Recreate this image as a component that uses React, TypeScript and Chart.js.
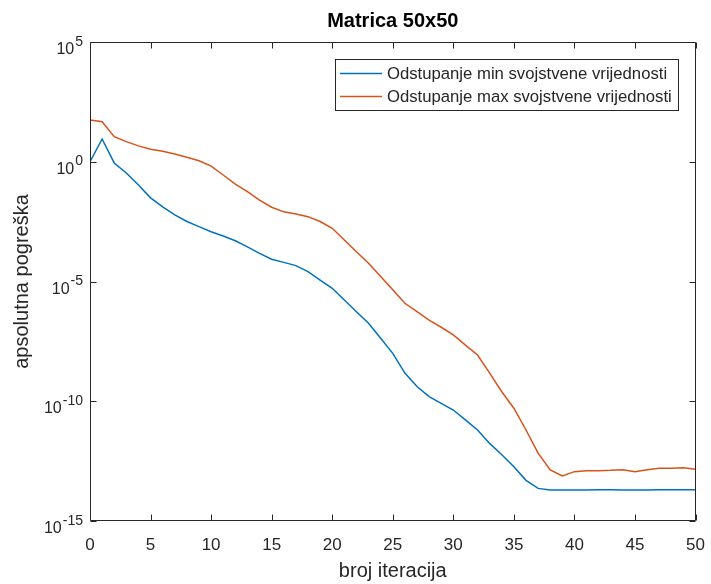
import React, { useEffect, useRef } from 'react';
import { Chart, registerables } from 'chart.js';

Chart.register(...registerables);

const chartTitle = 'Matrica 50x50';
const xAxisTitle = 'broj iteracija';
const yAxisTitle = 'apsolutna pogreška';
const seriesLabels = ['Odstupanje min svojstvene vrijednosti', 'Odstupanje max svojstvene vrijednosti'];
const seriesColors = ['#0072BD', '#D95319'];

const iterations = [
  0, 1, 2, 3, 4, 5, 6, 7, 8, 9, 10, 11, 12, 13, 14, 15, 16, 17, 18, 19, 20,
  21, 22, 23, 24, 25, 26, 27, 28, 29, 30, 31, 32, 33, 34, 35, 36, 37, 38, 39, 40,
  41, 42, 43, 44, 45, 46, 47, 48, 49, 50,
];

const minDeviation = [
  1.0, 8.9, 0.89, 0.34, 0.107, 0.031, 0.013, 6.0e-3, 3.2e-3, 1.95e-3, 1.2e-3,
  7.9e-4, 5.0e-4, 2.8e-4, 1.5e-4, 8.5e-5, 6.3e-5, 4.6e-5, 2.6e-5, 1.15e-5, 5.2e-6,
  1.7e-6, 5.5e-7, 1.8e-7, 4.3e-8, 1.0e-8, 1.5e-9, 4.1e-10, 1.55e-10, 8.1e-11, 4.3e-11,
  1.66e-11, 6.3e-12, 1.74e-12, 5.8e-13, 1.86e-13, 5.0e-14, 2.3e-14, 1.95e-14, 1.95e-14, 1.95e-14,
  1.97e-14, 2.0e-14, 2.0e-14, 1.97e-14, 1.95e-14, 1.97e-14, 2.0e-14, 2.0e-14, 2.0e-14, 2.0e-14,
];

const maxDeviation = [
  55, 47, 11.2, 6.9, 4.6, 3.3, 2.75, 2.1, 1.55, 1.1, 0.66,
  0.28, 0.117, 0.056, 0.025, 0.0126, 8.1e-3, 6.6e-3, 5.1e-3, 3.2e-3, 1.66e-3,
  5.4e-4, 1.74e-4, 5.8e-5, 1.6e-5, 4.5e-6, 1.23e-6, 5.5e-7, 2.45e-7, 1.23e-7, 5.9e-8,
  2.2e-8, 8.5e-9, 1.5e-9, 2.5e-10, 5.1e-11, 6.3e-12, 6.8e-13, 1.35e-13, 7.6e-14, 1.15e-13,
  1.26e-13, 1.26e-13, 1.3e-13, 1.38e-13, 1.15e-13, 1.38e-13, 1.6e-13, 1.6e-13, 1.66e-13, 1.45e-13,
];

const xTickValues = [0, 5, 10, 15, 20, 25, 30, 35, 40, 45, 50];
const yTickValues = [1e-15, 1e-10, 1e-5, 1e0, 1e5];
const yTickBase = '10';
const yTickExponents = ['-15', '-10', '-5', '0', '5'];

const FONT = "'Liberation Sans', Arial, Helvetica, sans-serif";
const AXIS_COLOR = '#262626';

const framePlugin = {
  id: 'matlabFrame',
  afterDraw(chart: any) {
    const { ctx, chartArea } = chart;
    const { left, right, top, bottom } = chartArea;
    const xs = chart.scales.x;
    const ys = chart.scales.y;
    ctx.save();
    ctx.strokeStyle = AXIS_COLOR;
    ctx.lineWidth = 1;
    const L = Math.round(left) + 0.5;
    const R = Math.round(right) - 0.5;
    const T = Math.round(top) + 0.5;
    const B = Math.round(bottom) - 0.5;
    ctx.beginPath();
    ctx.rect(L, T, R - L, B - T);
    ctx.stroke();
    const tl = 6;
    ctx.beginPath();
    xTickValues.forEach((v) => {
      const px = Math.round(xs.getPixelForValue(v)) + 0.5;
      ctx.moveTo(px, B);
      ctx.lineTo(px, B - tl);
      ctx.moveTo(px, T);
      ctx.lineTo(px, T + tl);
    });
    yTickValues.forEach((v) => {
      const py = Math.round(ys.getPixelForValue(v)) + 0.5;
      ctx.moveTo(L, py);
      ctx.lineTo(L + tl, py);
      ctx.moveTo(R, py);
      ctx.lineTo(R - tl, py);
    });
    ctx.stroke();

    // y tick labels: base with raised exponent
    ctx.fillStyle = AXIS_COLOR;
    ctx.textBaseline = 'alphabetic';
    yTickValues.forEach((v, i) => {
      const py = ys.getPixelForValue(v);
      const rightEdge = 83;
      ctx.font = `14px ${FONT}`;
      ctx.textAlign = 'right';
      const expText = yTickExponents[i];
      const expW = ctx.measureText(expText).width;
      ctx.fillText(expText, rightEdge, py + 3.5);
      ctx.font = `16px ${FONT}`;
      ctx.fillText(yTickBase, rightEdge - expW - 1, py + 12);
    });

    // title
    ctx.fillStyle = '#000000';
    ctx.font = `bold 20px ${FONT}`;
    ctx.textAlign = 'center';
    ctx.textBaseline = 'middle';
    ctx.fillText(chartTitle, (left + right) / 2, 21);

    // legend
    const bx = 335.5, by = 59.5, bw = 343, bh = 51;
    ctx.fillStyle = '#ffffff';
    ctx.fillRect(bx, by, bw, bh);
    ctx.strokeStyle = AXIS_COLOR;
    ctx.strokeRect(bx, by, bw, bh);
    const rows = [73.5, 96.5];
    ctx.font = `16.7px ${FONT}`;
    ctx.textAlign = 'left';
    ctx.textBaseline = 'middle';
    seriesLabels.forEach((label, i) => {
      ctx.strokeStyle = seriesColors[i];
      ctx.lineWidth = 1.5;
      ctx.beginPath();
      ctx.moveTo(340, rows[i]);
      ctx.lineTo(382, rows[i]);
      ctx.stroke();
      ctx.fillStyle = AXIS_COLOR;
      ctx.fillText(label, 387, rows[i] + 0.5);
    });
    ctx.restore();
  },
};

export default function App() {
  const canvasRef = useRef<HTMLCanvasElement | null>(null);

  useEffect(() => {
    const canvas = canvasRef.current;
    if (!canvas) return;
    const chart = new Chart(canvas, {
      type: 'line',
      data: {
        datasets: [minDeviation, maxDeviation].map((series, si) => ({
          label: seriesLabels[si],
          data: iterations.map((x, i) => ({ x, y: series[i] })),
          borderColor: seriesColors[si],
          backgroundColor: seriesColors[si],
          borderWidth: 1.5,
          pointRadius: 0,
          fill: false,
          tension: 0,
        })),
      },
      options: {
        animation: false,
        responsive: false,
        maintainAspectRatio: false,
        devicePixelRatio: 1,
        layout: { padding: { top: 42, right: 14, left: 0, bottom: 0 } },
        plugins: {
          legend: { display: false },
          title: { display: false },
          tooltip: { enabled: false },
        },
        scales: {
          x: {
            type: 'linear',
            min: 0,
            max: 50,
            afterBuildTicks: (s: any) => {
              s.ticks = xTickValues.map((v) => ({ value: v }));
            },
            afterFit: (s: any) => {
              s.height = 63;
            },
            grid: { display: false },
            border: { display: false },
            ticks: {
              color: AXIS_COLOR,
              font: { family: FONT, size: 17 },
              padding: 6,
              maxRotation: 0,
              autoSkip: false,
            },
            title: {
              display: true,
              text: xAxisTitle,
              color: AXIS_COLOR,
              font: { family: FONT, size: 20 },
              padding: { top: 0, bottom: 1 },
            },
          },
          y: {
            type: 'logarithmic',
            min: 1e-15,
            max: 1e5,
            afterBuildTicks: (s: any) => {
              s.ticks = yTickValues.map((v) => ({ value: v }));
            },
            afterFit: (s: any) => {
              s.width = 90;
            },
            grid: { display: false },
            border: { display: false },
            ticks: { display: false },
            title: {
              display: true,
              text: yAxisTitle,
              color: AXIS_COLOR,
              font: { family: FONT, size: 20 },
              padding: { top: 10, bottom: 0 },
            },
          },
        },
      },
      plugins: [framePlugin],
    });
    return () => chart.destroy();
  }, []);

  return (
    <div style={{ position: 'absolute', left: 0, top: 0, width: 711, height: 584, background: '#ffffff' }}>
      <canvas ref={canvasRef} width={711} height={584} style={{ display: 'block', width: 711, height: 584 }} />
    </div>
  );
}
